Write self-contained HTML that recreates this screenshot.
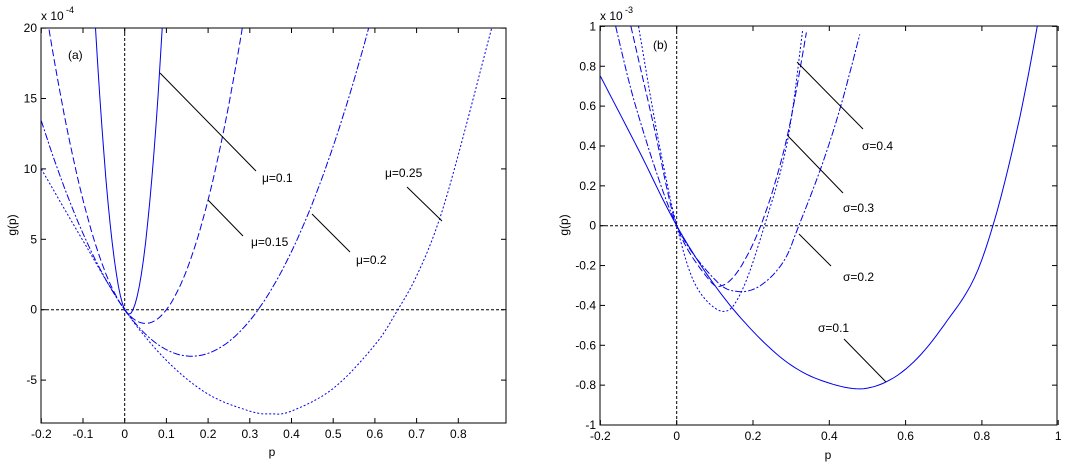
<!DOCTYPE html>
<html><head><meta charset="utf-8"><style>
html,body{margin:0;padding:0;background:#fff;}
svg{display:block;font-family:"Liberation Sans",Arial,sans-serif;}
</style></head><body>
<svg id="s" width="1075" height="464" xmlns="http://www.w3.org/2000/svg"></svg>
<script>
const s=document.getElementById('s');let h='';
function ln(x1,y1,x2,y2,st){h+=`<line x1="${x1}" y1="${y1}" x2="${x2}" y2="${y2}" stroke="#000" stroke-width="1" ${st||''}/>`;}
function tx(x,y,t,a,sz){h+=`<text x="${x}" y="${y}" font-size="${sz||12}" text-anchor="${a||'start'}" fill="#000">${t}</text>`;}
function axes(L,R,T,B,xt,fx,yt,fy,fmt){
  h+=`<rect x="${L}" y="${T}" width="${R-L}" height="${B-T}" fill="none" stroke="#000"/>`;
  xt.forEach(v=>{const x=fx(v);ln(x,B,x,B-5);ln(x,T,x,T+5);tx(x,B+15,fmt(v),'middle');});
  yt.forEach(v=>{const y=fy(v);ln(L,y,L+5,y);ln(R,y,R-5,y);tx(L-4,y+4,fmt(v),'end');});
}
function curve(pts,fx,fy,dash,L){
  let d=pts.map((p,i)=>(i?'L':'M')+fx(p[0]).toFixed(1)+' '+fy(p[1]).toFixed(1)).join(' ');
  h+=`<path d="${d}" fill="none" stroke="#0000ee" stroke-width="1" ${dash?`stroke-dasharray="${dash}"`:''} clip-path="url(#${L<540?'ca':'cb'})"/>`;
}
function spline(p,n){let o=[];for(let i=0;i<p.length-1;i++){const p0=p[Math.max(0,i-1)],p1=p[i],p2=p[i+1],p3=p[Math.min(p.length-1,i+2)];for(let k=0;k<n;k++){const t=k/n,t2=t*t,t3=t2*t;const f=(a,b,c,d)=>0.5*(2*b+(-a+c)*t+(2*a-5*b+4*c-d)*t2+(-a+3*b-3*c+d)*t3);o.push([f(p0[0],p1[0],p2[0],p3[0]),f(p0[1],p1[1],p2[1],p3[1])]);}}o.push(p[p.length-1]);return o;}
h+=`<defs><clipPath id="ca"><rect x="41" y="28" width="465" height="395"/></clipPath><clipPath id="cb"><rect x="600" y="26" width="457" height="399"/></clipPath></defs>`;
// left
const fxa=v=>124.7+v*417,fya=v=>309.7-v*14.08;
const fmt=v=>{let r=Math.round(v*10)/10;return (r==0?'0':String(r));};
axes(41,506,28,423,[-0.2,-0.1,0,0.1,0.2,0.3,0.4,0.5,0.6,0.7,0.8],fxa,[-5,0,5,10,15,20],fya,fmt);
ln(41,309.7,506,309.7,'stroke-dasharray="3,2"');ln(124.7,28,124.7,423,'stroke-dasharray="3,2"');
function fn(f,a,b){let o=[];for(let p=a;p<=b+1e-9;p+=0.005)o.push([p,f(p)]);return o;}
curve(fn(p=>3175*p*(p-0.02),-0.1,0.12),fxa,fya,null,41);
curve(fn(p=>390*p*(p-0.1),-0.2,0.3),fxa,fya,'7,3',41);
curve(fn(p=>129*p*(p-0.32),-0.2,0.6),fxa,fya,'7,2,2,2',41);
curve(spline([[-0.2,10],[-0.1,4.9],[0,0],[0.1,-3.6],[0.2,-6],[0.3,-7.2],[0.35,-7.4],[0.4,-7.2],[0.5,-5.6],[0.6,-2.5],[0.655,0],[0.7,2.4],[0.75,6],[0.8,11],[0.88,20],[0.9,22]],8),fxa,fya,'2,2',41);
ln(160,73,256,171);tx(262,182,'μ=0.1');
ln(208,200,243,236);tx(251,246,'μ=0.15');
ln(312,214,350,252);tx(356,264,'μ=0.2');
ln(407,187,442,221);tx(385,177,'μ=0.25');
tx(68,59,'(a)');
tx(41,20,'x 10');tx(66,13,'-4','start',9);
h+=`<text x="16" y="225" font-size="12" text-anchor="middle" transform="rotate(-90 16 225)">g(p)</text>`;
tx(272,456,'p','middle');
// right
const fxb=v=>676.7+v*381.5,fyb=v=>225.7-v*199.3;
axes(600,1057,26,425,[-0.2,0,0.2,0.4,0.6,0.8,1],fxb,[-1,-0.8,-0.6,-0.4,-0.2,0,0.2,0.4,0.6,0.8,1],fyb,fmt);
ln(600,225.7,1057,225.7,'stroke-dasharray="3,2"');ln(676.7,26,676.7,425,'stroke-dasharray="3,2"');
curve(spline([[-0.2,0.75],[-0.1,0.38],[0,0],[0.1,-0.3],[0.2,-0.53],[0.3,-0.7],[0.4,-0.79],[0.5,-0.815],[0.6,-0.72],[0.7,-0.5],[0.8,-0.17],[0.9,0.55],[1.0,1.6]],10),fxb,fyb,null,600);
curve(spline([[-0.16,1],[-0.1,0.55],[0,0],[0.1,-0.27],[0.16,-0.33],[0.22,-0.3],[0.28,-0.18],[0.32,0],[0.38,0.3],[0.43,0.6],[0.48,0.96]],8),fxb,fyb,'7,2,2,2',600);
curve(spline([[-0.12,1],[-0.06,0.5],[0,0],[0.08,-0.26],[0.12,-0.3],[0.17,-0.2],[0.23,0.05],[0.29,0.45],[0.34,0.97]],8),fxb,fyb,'7,3',600);
curve(spline([[-0.1,1],[-0.05,0.45],[0,0],[0.05,-0.3],[0.12,-0.43],[0.17,-0.33],[0.23,0],[0.29,0.42],[0.33,0.98]],8),fxb,fyb,'2,2',600);
ln(797,62,863,129);tx(862,150,'σ=0.4');
ln(788,136,843,193);tx(843,212,'σ=0.3');
ln(799,234,831,266);tx(843,281,'σ=0.2');
ln(844,339,886,382);tx(818,332,'σ=0.1');
tx(653,49,'(b)');
tx(600,20,'x 10');tx(625,13,'-3','start',9);
h+=`<text x="568" y="225" font-size="12" text-anchor="middle" transform="rotate(-90 568 225)">g(p)</text>`;
tx(828,459,'p','middle');
s.innerHTML=h;
</script>
</body></html>
